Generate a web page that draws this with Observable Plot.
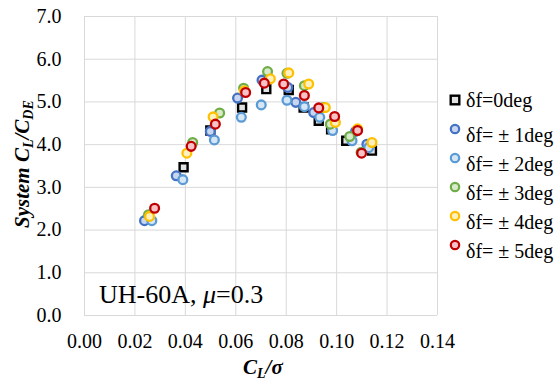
<!DOCTYPE html>
<html>
<head>
<meta charset="utf-8">
<script src="https://cdn.jsdelivr.net/npm/d3@7"></script>
<script src="https://cdn.jsdelivr.net/npm/@observablehq/plot@0.6"></script>
<style>
  html, body { margin: 0; padding: 0; background: #fff; }
  #chart { width: 558px; height: 385px; }
  #chart svg, #chart svg text { font-family: "Liberation Serif", "Times New Roman", serif !important; }
</style>
</head>
<body>
<div id="chart"></div>
<script>
// ---- data ----
const xTicks = [0, 0.02, 0.04, 0.06, 0.08, 0.10, 0.12, 0.14];
const yTicks = [0, 1, 2, 3, 4, 5, 6, 7];

const seriesNames = ["δf=0deg", "δf= ± 1deg", "δf= ± 2deg", "δf= ± 3deg", "δf= ± 4deg", "δf= ± 5deg"];

const s0x = [0.0393, 0.0499, 0.0625, 0.0721, 0.0810, 0.0869, 0.0929, 0.0978, 0.1038, 0.1140];
const s0y = [3.47, 4.33, 4.87, 5.30, 5.28, 4.87, 4.56, 4.36, 4.09, 3.86];

const s1x = [0.0238, 0.0364, 0.0499, 0.0607, 0.0704, 0.0806, 0.0838, 0.0909, 0.1075, 0.1120];
const s1y = [2.22, 3.27, 4.31, 5.09, 5.51, 5.34, 4.99, 4.75, 4.31, 4.01];

const s2x = [0.0267, 0.0390, 0.0515, 0.0622, 0.0701, 0.0803, 0.0872, 0.0933, 0.0984, 0.1061, 0.1127];
const s2y = [2.22, 3.18, 4.11, 4.64, 4.93, 5.04, 4.89, 4.64, 4.33, 4.09, 3.93];

const s3x = [0.0254, 0.0429, 0.0536, 0.0631, 0.0726, 0.0803, 0.0872, 0.0948, 0.0975, 0.1052, 0.1097];
const s3y = [2.36, 4.05, 4.74, 5.32, 5.71, 5.67, 5.38, 4.87, 4.48, 4.19, 3.82];

const s4x = [0.0258, 0.0406, 0.0510, 0.0634, 0.0737, 0.0810, 0.0889, 0.0955, 0.0995, 0.1083, 0.1140];
const s4y = [2.32, 3.80, 4.65, 5.26, 5.54, 5.68, 5.42, 4.87, 4.52, 4.37, 4.05];

const s5x = [0.0278, 0.0423, 0.0519, 0.0639, 0.0713, 0.0790, 0.0872, 0.0929, 0.0992, 0.1083, 0.1099];
const s5y = [2.51, 3.96, 4.48, 5.22, 5.44, 5.42, 5.15, 4.86, 4.66, 4.33, 3.80];

// ---- styles ----
const strokes = ["#000000", "#4472C4", "#5B9BD5", "#70AD47", "#FFC000", "#C00000"];
const fills   = ["#e3e3e3", "#c9d6ef", "#d5e6f5", "#d8eacc", "#fff0c0", "#f8c3c7"];

const zip = (xs, ys) => xs.map((x, i) => ({x, y: ys[i]}));
const series = [zip(s0x, s0y), zip(s1x, s1y), zip(s2x, s2y), zip(s3x, s3y), zip(s4x, s4y), zip(s5x, s5y)];

const font = "Liberation Serif, Times New Roman, serif";

const marks = [
  Plot.gridX(xTicks, {stroke: "#d9d9d9", strokeOpacity: 1, strokeWidth: 1}),
  Plot.gridY(yTicks, {stroke: "#d9d9d9", strokeOpacity: 1, strokeWidth: 1}),
  Plot.axisX(xTicks, {tickSize: 0, tickPadding: 18, tickFormat: d => d.toFixed(2), label: null, fontSize: 20, fontFamily: font}),
  Plot.axisY(yTicks, {tickSize: 0, tickPadding: 23, tickFormat: d => d.toFixed(1), label: null, fontSize: 20, fontFamily: font}),
  Plot.dot(series[0], {x: "x", y: "y", symbol: "square", r: 4.5, stroke: strokes[0], fill: fills[0], strokeWidth: 2.4})
];
for (let i = 1; i < series.length; i++) {
  marks.push(Plot.dot(series[i], {x: "x", y: "y", symbol: "circle", r: 4.4, stroke: strokes[i], fill: fills[i], strokeWidth: 2.3}));
}

const svgNode = Plot.plot({
  width: 558,
  height: 385,
  marginLeft: 84,
  marginRight: 121,
  marginTop: 16,
  marginBottom: 70,
  x: {domain: [0, 0.14]},
  y: {domain: [0, 7]},
  style: {fontFamily: font, fontSize: "20px", color: "#000", background: "#fff", overflow: "visible"},
  marks
});
document.getElementById("chart").appendChild(svgNode);

// ---- annotations, axis titles and legend ----
const svg = d3.select(svgNode);

// annotation
const ann = svg.append("text")
  .attr("x", 99).attr("y", 303).attr("text-anchor", "start")
  .attr("font-family", font).attr("font-size", 26).attr("fill", "#000");
ann.append("tspan").text("UH-60A, ");
ann.append("tspan").attr("font-style", "italic").text("μ");
ann.append("tspan").text("=0.3");

// x title
const xt = svg.append("text")
  .attr("x", 243).attr("y", 374).attr("text-anchor", "start")
  .attr("font-family", font).attr("font-size", 21)
  .attr("font-weight", "bold").attr("font-style", "italic").attr("fill", "#000");
xt.append("tspan").text("C");
xt.append("tspan").attr("font-size", 14).attr("dy", 4).text("L");
xt.append("tspan").attr("dy", -4).text("/σ");

// y title
const yt = svg.append("text")
  .attr("transform", "translate(29,228) rotate(-90)")
  .attr("text-anchor", "start")
  .attr("font-family", font).attr("font-size", 21)
  .attr("font-weight", "bold").attr("font-style", "italic").attr("fill", "#000");
yt.append("tspan").text("System C");
yt.append("tspan").attr("font-size", 14).attr("dy", 4).text("L");
yt.append("tspan").attr("dy", -4).text("/C");
yt.append("tspan").attr("font-size", 14).attr("dy", 4).text("DE");

// legend
const lg = svg.append("g");
const rowY = [100, 129, 158, 187, 216, 245];
seriesNames.forEach((name, i) => {
  const cy = rowY[i];
  if (i === 0) {
    lg.append("rect").attr("x", 455 - 4.3).attr("y", cy - 4.3).attr("width", 8.6).attr("height", 8.6)
      .attr("fill", fills[0]).attr("stroke", strokes[0]).attr("stroke-width", 2.4);
  } else {
    lg.append("circle").attr("cx", 455).attr("cy", cy).attr("r", 4.2)
      .attr("fill", fills[i]).attr("stroke", strokes[i]).attr("stroke-width", 2.2);
  }
  lg.append("text").attr("x", 466).attr("y", cy + (i === 0 ? 0 : 6)).attr("dy", "0.35em")
    .attr("text-anchor", "start")
    .attr("font-family", font).attr("font-size", 20).attr("fill", "#000").text(name);
});
</script>
</body>
</html>
